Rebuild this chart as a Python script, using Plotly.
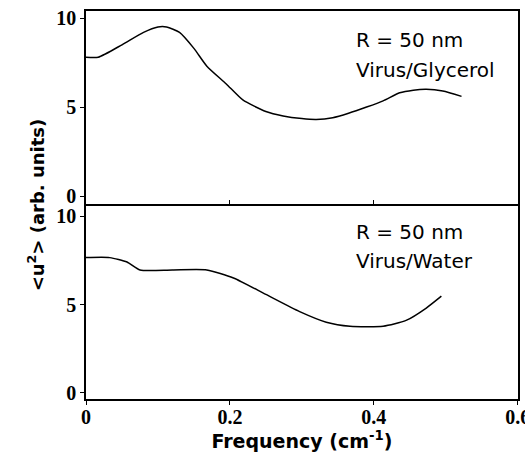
import plotly.graph_objects as go
from plotly.subplots import make_subplots

# Data
glycerol_freq = [0.0, 0.017, 0.05, 0.08, 0.10, 0.112, 0.13, 0.15, 0.168, 0.195, 0.218, 0.25, 0.274,
                 0.30, 0.32, 0.343, 0.365, 0.39, 0.413, 0.436, 0.455, 0.473, 0.496, 0.522]
glycerol_u2 = [7.8, 7.8, 8.5, 9.2, 9.5, 9.5, 9.2, 8.3, 7.3, 6.3, 5.4, 4.75, 4.5,
               4.35, 4.3, 4.4, 4.65, 5.0, 5.35, 5.8, 5.95, 6.0, 5.9, 5.6]

water_freq = [0.0, 0.033, 0.057, 0.075, 0.12, 0.168, 0.205, 0.25, 0.297, 0.334, 0.367, 0.413,
              0.445, 0.473, 0.494]
water_u2 = [7.65, 7.65, 7.4, 6.95, 6.95, 6.95, 6.5, 5.57, 4.6, 4.0, 3.77, 3.77,
            4.1, 4.8, 5.47]

x_ticks = [0, 0.2, 0.4, 0.6]
x_ticklabels = ["0", "0.2", "0.4", "0.6"]
y_ticks = [0, 5, 10]
panel_labels = [["R = 50 nm", "Virus/Glycerol"], ["R = 50 nm", "Virus/Water"]]

fig = make_subplots(rows=2, cols=1, shared_xaxes=True, vertical_spacing=0,
                    row_heights=[193, 195])

fig.add_trace(go.Scatter(x=glycerol_freq, y=glycerol_u2, mode="lines",
                         line=dict(color="black", width=1.5, shape="spline", smoothing=0.6),
                         showlegend=False), row=1, col=1)
fig.add_trace(go.Scatter(x=water_freq, y=water_u2, mode="lines",
                         line=dict(color="black", width=1.5, shape="spline", smoothing=0.6),
                         showlegend=False), row=2, col=1)

tickfont = dict(family="Liberation Serif", size=20, color="black", weight="bold")
axis_common = dict(showline=True, linecolor="black", linewidth=1.5, automargin=False,
                   showgrid=False, zeroline=False, tickcolor="black", ticklen=4, tickwidth=1.2)

fig.update_xaxes(range=[0, 0.6005], tickvals=x_ticks, ticktext=x_ticklabels,
                 tickfont=tickfont, ticklabeloverflow="allow", **axis_common)
fig.update_xaxes(ticks="inside", mirror=True, row=1, col=1)
fig.update_xaxes(ticks="outside", mirror=False, ticklabelstandoff=-5, row=2, col=1,
                 title=dict(text="Frequency (cm<sup>-1</sup>)",
                            font=dict(family="DejaVu Sans", size=19, color="black", weight="bold"),
                            standoff=6))
fig.update_yaxes(tickvals=y_ticks, tickfont=tickfont, ticks="outside", mirror=True, **axis_common)
fig.update_yaxes(range=[-0.45, 10.4], row=1, col=1)
fig.update_yaxes(range=[-0.34, 10.68], row=2, col=1)

fig.update_layout(
    width=525, height=458,
    margin=dict(l=86, r=7, t=11, b=59),
    plot_bgcolor="white", paper_bgcolor="white",
)

fig.add_annotation(text="&lt;u<sup>2</sup>&gt; (arb. units)", textangle=-90,
                   xref="paper", yref="paper", x=-0.115, y=0.5, xanchor="center", yanchor="middle",
                   showarrow=False,
                   font=dict(family="DejaVu Sans", size=18, color="black", weight="bold"))

line_pos = [[0.85, 0.695], [0.855, 0.71]]
for i, lines in enumerate(panel_labels):
    xr = "x" if i == 0 else "x2"
    yr = "y domain" if i == 0 else "y2 domain"
    for txt, yp in zip(lines, line_pos[i]):
        fig.add_annotation(text=txt, xref=xr, yref=yr,
                           x=0.372, y=yp, xanchor="left", yanchor="middle", align="left",
                           showarrow=False,
                           font=dict(family="DejaVu Sans", size=20, color="black"))

fig.write_html("out.html")
